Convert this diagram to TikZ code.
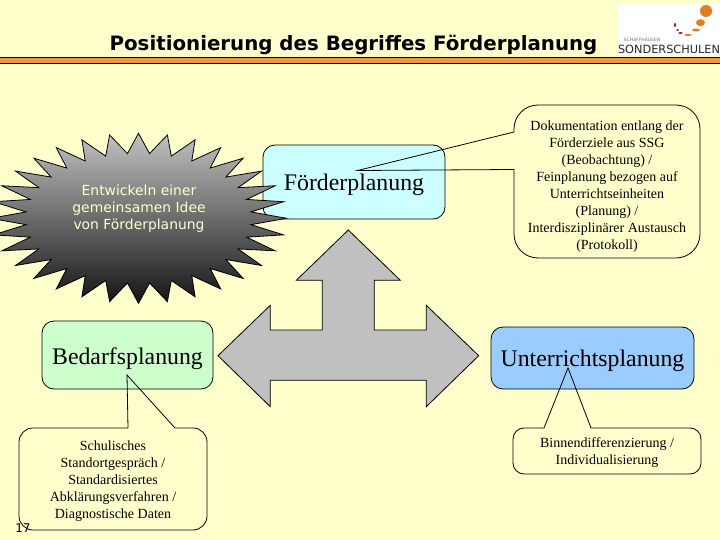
\documentclass[tikz,border=0pt]{standalone}
\usepackage{fontspec}
\setmainfont{Liberation Serif}
\newfontfamily\verdanafont{DejaVu Sans}
\usetikzlibrary{positioning,calc}
\definecolor{slidefill}{RGB}{255,255,204}
\definecolor{barfill}{RGB}{240,150,60}
\definecolor{foerderfill}{RGB}{204,255,255}
\definecolor{bedarffill}{RGB}{204,255,204}
\definecolor{unterrichtfill}{RGB}{153,204,255}
\definecolor{arrowfill}{RGB}{192,192,192}
\definecolor{logodot}{RGB}{226,126,30}
\definecolor{logored}{RGB}{140,40,50}

\begin{document}
\begin{tikzpicture}[
  x=1pt, y=-1pt, line width=0.8pt,
  planbox/.style={draw=black, rounded corners=12pt, inner sep=0pt, font=\fontsize{23.8}{26}\selectfont},
  bubbletext/.style={align=center, inner sep=0pt, font=\fontsize{14}{17}\selectfont},
  burst/.style={draw=black, top color=black!24, bottom color=black!92},
  bursttext/.style={align=center, inner sep=0pt, text=slidefill, font=\verdanafont\fontsize{13.9}{17}\selectfont},
  title/.style={inner sep=0pt, font=\verdanafont\bfseries\fontsize{19.8}{22}\selectfont},
  logodotst/.style={fill=logodot, draw=none}]

\useasboundingbox (0,0) rectangle (720,540);
\fill[slidefill] (0,0) rectangle (720,540);

% ---- header ----
\node[fill=white, minimum width=102pt, minimum height=51pt, inner sep=0pt] (logo) at (669,30) {};
\node[title] (heading) at (353.5,45) {Positionierung des Begriffes Förderplanung};
\node[draw=black, fill=barfill, minimum width=722pt, minimum height=6pt, inner sep=0pt] (bar) at (360,60) {};
\fill[logodotst] (706,11) ellipse (6 and 6);
\fill[logodotst] (700.5,22.7) ellipse (4.5 and 3.5);
\fill[logodotst] (696,30) ellipse (4 and 1.5);
\fill[logodotst] (688,35) ellipse (3.5 and 1);
\fill[logored] (680.5,33) ellipse (2 and 1);
\fill[logored] (677.5,30) ellipse (1.5 and 1);
\fill[logored] (675,25) ellipse (1.2 and 2);
\node[inner sep=0pt, text=black!55, font=\verdanafont\fontsize{4.5}{5}\selectfont] (logotop) at (642,40) {SCHAFFHAUSEN};
\node[inner sep=0pt, text=black!85, font=\verdanafont\fontsize{11.3}{12}\selectfont] (logoname) at (669,49) {SONDERSCHULEN};

% ---- the box behind the burst ----
\node[planbox, fill=foerderfill, minimum width=182pt, minimum height=74pt] (foerder) at (354,182) {\raisebox{-8.7pt}[0pt][0pt]{Förderplanung}};

% ---- burst ----
\draw[burst] plot[samples=65, domain=0:64] ({138.5+(mod(\x,2)==0?148:113)*sin(\x*5.625)}, {218.3-(mod(\x,2)==0?85:65)*cos(\x*5.625)}) -- cycle;
\node[bursttext] (idee) at (139,209) {Entwickeln einer\\gemeinsamen Idee\\von Förderplanung};

% ---- the other two boxes ----
\node[planbox, fill=bedarffill, minimum width=171pt, minimum height=68pt] (bedarf) at (127.5,355) {\raisebox{-9.3pt}[0pt][0pt]{Bedarfsplanung}};
\node[planbox, fill=unterrichtfill, minimum width=203pt, minimum height=62pt] (unterricht) at (592.5,358) {\raisebox{-8pt}[0pt][0pt]{Unterrichtsplanung}};

% ---- three-way arrow ----
\draw[fill=arrowfill] (348.3,230) -- (400.3,280.3) -- (374.3,280.3) -- (374.3,330) -- (426.3,330) -- (426.3,305.3) -- (478.7,355.7) -- (426.3,406.7) -- (426.3,380.3) -- (270.3,380.3) -- (270.3,406.7) -- (218,355.7) -- (270.3,305.3) -- (270.3,330) -- (322.3,330) -- (322.3,280.3) -- (296.3,280.3) -- cycle;

% ---- callouts ----
\coordinate (tipfoerder) at (357.5,170.5);
\draw (514,132) -- (tipfoerder) -- (514,169.5) -- (514,200) [rounded corners=24pt] -- (514,258) -- (700,258) -- (700,105) -- (514,105) -- (514,132);
\node[bubbletext] (doku) at (607,187) {Dokumentation entlang der\\Förderziele aus SSG\\(Beobachtung) /\\Feinplanung bezogen auf\\Unterrichtseinheiten\\(Planung) /\\Interdisziplinärer Austausch\\(Protokoll)};

\coordinate (tipbedarf) at (127,375);
\draw (128,428) -- (tipbedarf) -- (175,428) -- (180,428) [rounded corners=14pt] -- (207,428) -- (207,530) -- (19,530) -- (19,428) -- (128,428);
\node[bubbletext] (standort) at (113,481) {Schulisches\\Standortgespräch /\\Standardisiertes\\Abklärungsverfahren /\\Diagnostische Daten};

\coordinate (tipunterricht) at (568,368);
\draw (544,428) -- (tipunterricht) -- (591,428) -- (596,428) [rounded corners=11pt] -- (701,428) -- (701,474) -- (513,474) -- (513,428) -- (544,428);
\node[bubbletext] (binnen) at (607,453) {Binnendifferenzierung /\\Individualisierung};

% page number
\node[inner sep=0pt, font=\verdanafont\fontsize{12}{14}\selectfont] (pagenum) at (23,528) {17};
\end{tikzpicture}
\end{document}
